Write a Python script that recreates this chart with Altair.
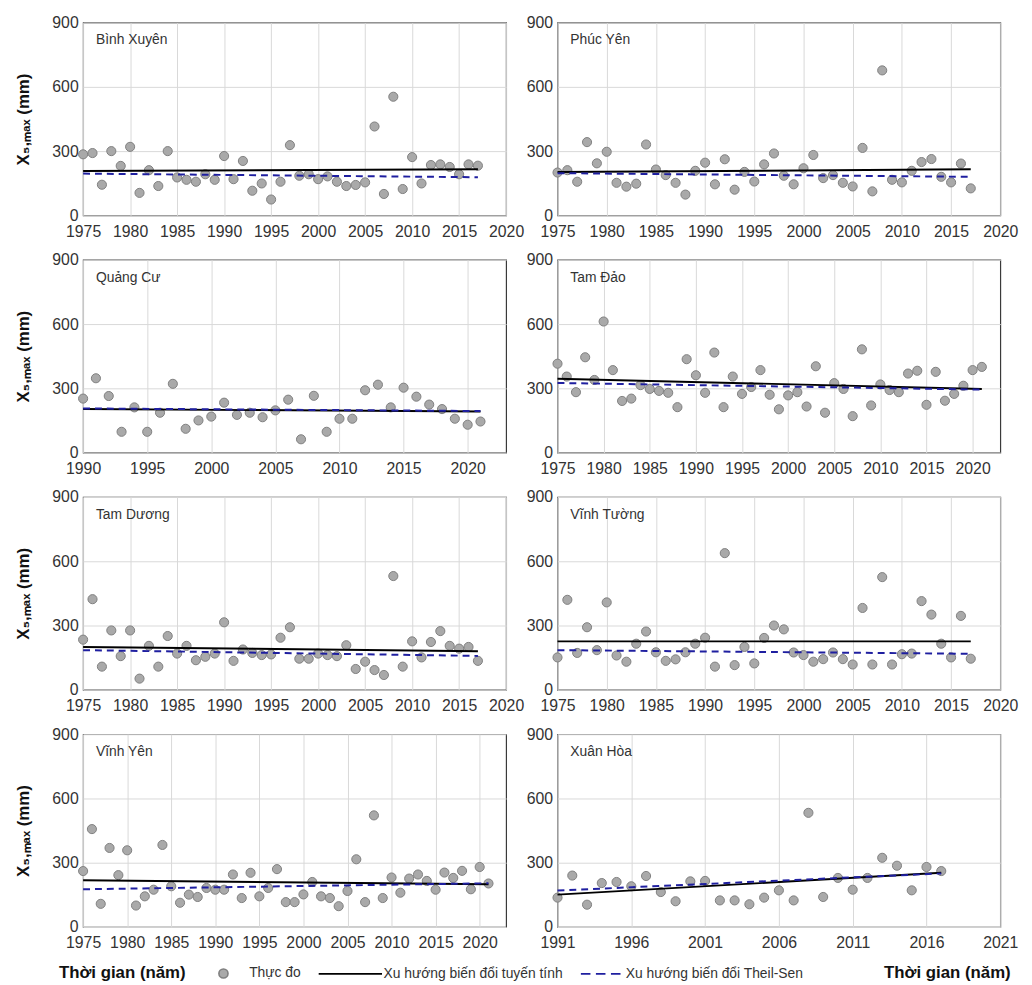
import altair as alt
import pandas as pd

FONT = "Liberation Sans"
SERIES = ["Thực đo", "Xu hướng biến đổi tuyến tính", "Xu hướng biến đổi Theil-Sen"]
Y_TITLE = "X₅,ₘₐₓ (mm)"
X_TITLE = "Thời gian (năm)"

# ---- data ----
binh_xuyen_start = 1975
binh_xuyen = [285, 291, 143, 300, 231, 320, 105, 211, 137, 300, 177, 166, 157, 192, 166,
              277, 169, 254, 115, 149, 74, 157, 328, 185, 192, 169, 182, 157, 137, 142,
              154, 415, 100, 554, 123, 272, 149, 235, 238, 226, 192, 238, 232]
binh_xuyen_lin = [207, 215]
binh_xuyen_ts = [195, 178]

phuc_yen_start = 1975
phuc_yen = [200, 211, 157, 342, 243, 297, 152, 134, 148, 331, 214, 188, 152, 97, 208,
            246, 145, 262, 120, 203, 158, 238, 289, 185, 145, 220, 282, 174, 188, 152,
            135, 315, 112, 677, 166, 154, 208, 249, 263, 180, 154, 242, 126]
phuc_yen_lin = [202, 215]
phuc_yen_ts = [197, 180]

quang_cu_start = 1990
quang_cu = [252, 347, 264, 97, 211, 97, 186, 321, 111, 150, 168, 233, 176, 186, 165,
            197, 247, 62, 265, 97, 158, 158, 291, 317, 211, 303, 261, 224, 203, 158,
            130, 145]
quang_cu_lin = [203, 192]
quang_cu_ts = [206, 194]

tam_dao_start = 1975
tam_dao = [415, 355, 282, 445, 339, 612, 385, 241, 252, 315, 297, 288, 279, 212, 436,
           361, 279, 467, 212, 355, 274, 306, 385, 270, 202, 267, 282, 215, 403, 186,
           324, 297, 170, 482, 220, 318, 292, 282, 369, 382, 223, 377, 242, 274, 312,
           385, 400]
tam_dao_lin = [345, 297]
tam_dao_ts = [325, 294]

tam_duong_start = 1975
tam_duong = [234, 423, 108, 277, 157, 277, 52, 205, 108, 251, 169, 205, 138, 154, 169,
             315, 135, 188, 172, 162, 165, 243, 292, 145, 145, 169, 162, 157, 208, 97,
             131, 92, 69, 531, 108, 226, 151, 223, 274, 205, 192, 200, 135]
tam_duong_lin = [200, 180]
tam_duong_ts = [185, 158]

vinh_tuong_start = 1975
vinh_tuong = [151, 420, 172, 292, 185, 408, 160, 131, 215, 272, 175, 135, 142, 175, 215,
              243, 108, 638, 115, 200, 123, 242, 300, 282, 174, 162, 131, 143, 174, 143,
              118, 382, 118, 526, 118, 166, 169, 414, 351, 215, 151, 345, 145]
vinh_tuong_lin = [226, 226]
vinh_tuong_ts = [185, 168]

vinh_yen_start = 1975
vinh_yen = [261, 457, 108, 369, 242, 358, 100, 143, 174, 383, 190, 113, 151, 140, 182,
            174, 174, 245, 135, 253, 143, 182, 270, 116, 116, 152, 210, 143, 135, 97,
            168, 316, 116, 521, 135, 231, 160, 226, 245, 215, 174, 254, 229, 262, 176,
            280, 203]
vinh_yen_lin = [218, 199]
vinh_yen_ts = [176, 204]

xuan_hoa_start = 1991
xuan_hoa = [137, 240, 104, 205, 210, 190, 238, 163, 120, 213, 215, 124, 124, 106, 137,
            171, 124, 533, 140, 229, 174, 229, 323, 286, 171, 280, 261]
xuan_hoa_lin = [151, 253]
xuan_hoa_ts = [170, 250]

ticks_1975 = [1975, 1980, 1985, 1990, 1995, 2000, 2005, 2010, 2015, 2020]
ticks_1990 = [1990, 1995, 2000, 2005, 2010, 2015, 2020]
ticks_1991 = [1991, 1996, 2001, 2006, 2011, 2016, 2021]
y_ticks = [0, 300, 600, 900]

# ---- styling ----
LEFT_W, RIGHT_W, H = 428, 448, 195

color_scale = alt.Scale(domain=SERIES, range=["#7f7f7f", "#000000", "#1f1fa0"])
shape_scale = alt.Scale(domain=SERIES, range=[
    "circle",
    "M-8.6,0H5.3",
    "M-4.2,0H-2.1M-0.9,0H1.2M2.4,0H4.5",
])
legend = alt.Legend(
    title=None, orient="none", legendX=135, legendY=955, direction="horizontal",
    labelFont=FONT, labelFontSize=14, labelColor="#333", labelOffset=19,
    columnPadding=14, symbolStrokeWidth=1.6, symbolSize=85,
    symbolFillColor="#a9a9a9", labelLimit=400, padding=0,
)


def panel(name, start, values, lin, ts, domain, ticks, width, left, xtitle=None):
    years = list(range(start, start + len(values)))
    pts_df = pd.DataFrame({"year": years, "value": values, "series": SERIES[0]})
    lin_df = pd.DataFrame({"year": [years[0], years[-1]], "value": lin})
    ts_df = pd.DataFrame({"year": [years[0], years[-1]], "value": ts})

    xaxis_kw = dict(values=ticks, format="d", grid=True, labelPadding=8)
    title_kw = dict(title=X_TITLE, titleY=46, titleBaseline="middle", titleFontWeight="bold",
                    titleFontSize=17, titleFont=FONT, titleColor="#111")
    if xtitle == "left":
        xaxis_kw.update(titleAnchor="start", titleAlign="left", titleX=-25, **title_kw)
    elif xtitle == "right":
        xaxis_kw.update(titleAnchor="end", titleAlign="right", titleX=width + 10, **title_kw)
    else:
        xaxis_kw.update(title=None)
    x = alt.X("year:Q", scale=alt.Scale(domain=domain, nice=False, zero=False),
              axis=alt.Axis(**xaxis_kw))
    if left:
        yaxis = alt.Axis(values=y_ticks, title=Y_TITLE, titleFontSize=17, titleFontWeight="bold",
                         titleFont=FONT, titlePadding=20, titleColor="#111")
    else:
        yaxis = alt.Axis(values=y_ticks, title=None)
    y = alt.Y("value:Q", scale=alt.Scale(domain=[0, 900], nice=False), axis=yaxis)

    pts = alt.Chart(pts_df).mark_point(filled=False, fill="#a9a9a9", strokeWidth=1,
                                       size=85, opacity=1).encode(
        x=x, y=y,
        color=alt.Color("series:N", scale=color_scale, legend=legend),
        shape=alt.Shape("series:N", scale=shape_scale, legend=legend),
    )
    lin_line = alt.Chart(lin_df).mark_line(color="#000000", strokeWidth=2).encode(x=x, y=y)
    ts_line = alt.Chart(ts_df).mark_line(color="#1f1fa0", strokeWidth=2,
                                         strokeDash=[7, 5]).encode(x=x, y=y)
    label = alt.Chart(pd.DataFrame({"name": [name]})).mark_text(
        align="left", baseline="middle", font=FONT, fontSize=14, color="#333"
    ).encode(text="name:N", x=alt.value(13), y=alt.value(18))
    return alt.layer(pts, lin_line, ts_line, label).properties(width=width, height=H)


panels = [
    panel("Bình Xuyên", binh_xuyen_start, binh_xuyen, binh_xuyen_lin, binh_xuyen_ts,
          [1975, 2020], ticks_1975, LEFT_W, True),
    panel("Phúc Yên", phuc_yen_start, phuc_yen, phuc_yen_lin, phuc_yen_ts,
          [1975, 2020], ticks_1975, RIGHT_W, False),
    panel("Quảng Cư", quang_cu_start, quang_cu, quang_cu_lin, quang_cu_ts,
          [1990, 2023], ticks_1990, LEFT_W, True),
    panel("Tam Đảo", tam_dao_start, tam_dao, tam_dao_lin, tam_dao_ts,
          [1975, 2023], ticks_1975, RIGHT_W, False),
    panel("Tam Dương", tam_duong_start, tam_duong, tam_duong_lin, tam_duong_ts,
          [1975, 2020], ticks_1975, LEFT_W, True),
    panel("Vĩnh Tường", vinh_tuong_start, vinh_tuong, vinh_tuong_lin, vinh_tuong_ts,
          [1975, 2020], ticks_1975, RIGHT_W, False),
    panel("Vĩnh Yên", vinh_yen_start, vinh_yen, vinh_yen_lin, vinh_yen_ts,
          [1975, 2023], ticks_1975, LEFT_W, True, xtitle="left"),
    panel("Xuân Hòa", xuan_hoa_start, xuan_hoa, xuan_hoa_lin, xuan_hoa_ts,
          [1991, 2021], ticks_1991, RIGHT_W, False, xtitle="right"),
]

chart = alt.concat(
    *panels, columns=2, spacing=alt.RowColnumber(row=45, column=52), bounds="flush"
).properties(
    background="white", padding={"left": 5, "top": 0, "right": 5, "bottom": 5}
).configure_view(
    stroke="#3a3a3a", strokeWidth=1.2
).configure_axis(
    labelFont=FONT, labelFontSize=16, labelColor="#333", gridColor="#d9d9d9", gridWidth=1,
    domain=False, ticks=False, tickSize=0, labelPadding=5, labelFlush=False,
    labelOverlap=False,
)

chart.save("out.html", embed_options={"renderer": "svg", "actions": False})
